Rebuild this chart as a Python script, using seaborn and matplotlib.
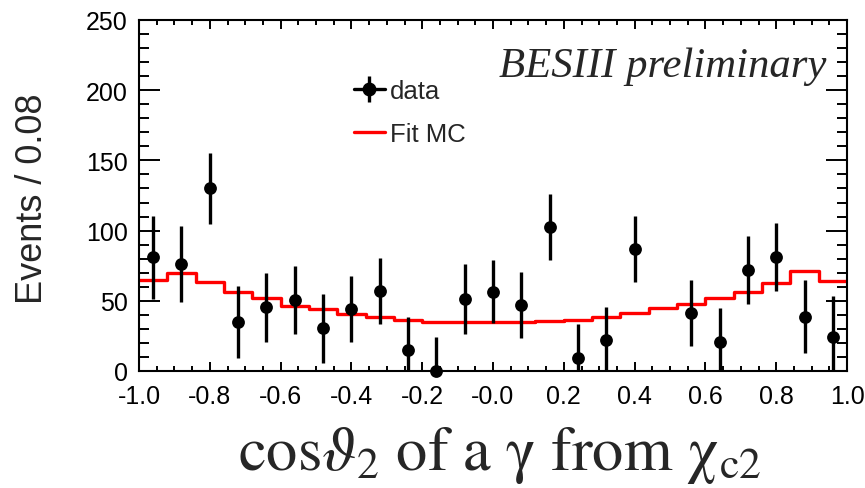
import numpy as np
import pandas as pd
import matplotlib
matplotlib.use("Agg")
import matplotlib.pyplot as plt
import seaborn as sns
from matplotlib.ticker import MultipleLocator, FixedLocator
from matplotlib.lines import Line2D
from matplotlib.legend_handler import HandlerTuple

# ---------------- data ----------------
bin_width = 0.08
bin_centers = [-0.96, -0.88, -0.80, -0.72, -0.64, -0.56, -0.48, -0.40, -0.32,
               -0.24, -0.16, -0.08, 0.00, 0.08, 0.16, 0.24, 0.32, 0.40, 0.48,
               0.56, 0.64, 0.72, 0.80, 0.88, 0.96]
data_counts = [81.0, 76.2, 130.1, 35.1, 45.4, 50.6, 30.4, 44.2, 56.8,
               15.0, 0.2, 51.3, 56.5, 47.0, 102.8, 9.0, 22.1, 86.9, np.nan,
               41.3, 20.4, 72.2, 81.0, 38.7, 24.0]
data_errors = [29.6, 27.0, 25.5, 25.5, 24.7, 24.0, 24.6, 23.4, 23.4,
               23.2, 24.0, 24.6, 22.3, 23.5, 23.5, 24.5, 23.3, 23.5, np.nan,
               23.4, 24.2, 24.3, 24.3, 26.1, 29.6]
fit_mc = [64.8, 69.8, 63.6, 56.5, 52.0, 46.5, 44.2, 40.6, 38.7,
          36.4, 34.8, 35.2, 34.8, 34.8, 35.7, 36.6, 38.2, 41.0, 44.8,
          47.7, 51.7, 56.0, 62.8, 70.9, 63.8]
x_tick_values = [-1.0, -0.8, -0.6, -0.4, -0.2, 0.0, 0.2, 0.4, 0.6, 0.8, 1.0]
x_tick_labels = ["-1.0", "-0.8", "-0.6", "-0.4", "-0.2", "-0.0",
                 "0.2", "0.4", "0.6", "0.8", "1.0"]
y_tick_values = [0, 50, 100, 150, 200, 250]
y_tick_labels = ["0", "50", "100", "150", "200", "250"]

df_data = pd.DataFrame({"x": bin_centers, "y": data_counts, "err": data_errors})
df_mc = pd.DataFrame({"x": bin_centers, "w": fit_mc})
bin_edges = [c - bin_width / 2 for c in bin_centers] + [bin_centers[-1] + bin_width / 2]

# ---------------- style ----------------
sns.set_theme(style="ticks")
plt.rcParams["font.family"] = ["Liberation Sans", "DejaVu Sans"]
plt.rcParams["mathtext.fontset"] = "stix"

W, H = 865, 489
fig = plt.figure(figsize=(W / 100, H / 100), dpi=100)
fig.patch.set_facecolor("white")
L, R, T, B = 139, 847, 21, 372
ax = fig.add_axes([L / W, (H - B) / H, (R - L) / W, (B - T) / H])
ax.set_facecolor("white")

# Fit MC histogram (step)
sns.histplot(data=df_mc, x="x", weights="w", bins=bin_edges, element="step",
             fill=False, color="#ff0000", linewidth=2.4, ax=ax, zorder=2)

# data error bars
ax.errorbar(df_data["x"], df_data["y"], yerr=df_data["err"], fmt="none",
            ecolor="black", elinewidth=2.4, capsize=0, zorder=3)
# data markers
sns.scatterplot(data=df_data, x="x", y="y", color="black", s=85,
                edgecolor="black", linewidth=0, ax=ax, zorder=4, clip_on=False)

ax.set_xlim(-1.0, 1.0)
ax.set_ylim(0, 250)
ax.set_xlabel("")
ax.set_ylabel("")

ax.xaxis.set_major_locator(FixedLocator(x_tick_values))
ax.set_xticklabels(x_tick_labels)
ax.xaxis.set_minor_locator(MultipleLocator(0.05))
ax.yaxis.set_major_locator(FixedLocator(y_tick_values))
ax.set_yticklabels(y_tick_labels)
ax.yaxis.set_minor_locator(MultipleLocator(10))

for s in ax.spines.values():
    s.set_visible(True)
    s.set_linewidth(1.5)
    s.set_color("black")

ax.tick_params(axis="both", which="both", direction="in", top=True, right=True,
               colors="black", width=1.4, labelsize=18)
ax.tick_params(axis="x", which="major", length=6.5, pad=9.5)
ax.tick_params(axis="x", which="minor", length=3.6)
ax.tick_params(axis="y", which="major", length=15, pad=8)
ax.tick_params(axis="y", which="minor", length=7.5)

# legend
h_data = (Line2D([], [], color="black", lw=2.4),
          Line2D([], [], color="black", marker="|", markersize=19,
                 markeredgewidth=2.4, linestyle="none"),
          Line2D([], [], color="black", marker="o", markersize=9,
                 linestyle="none"))
h_mc = Line2D([], [], color="#ff0000", lw=2.4)
ax.legend([h_data, h_mc], ["data", "Fit MC"],
          handler_map={tuple: HandlerTuple(ndivide=1)},
          loc="upper left", bbox_to_anchor=((354 - L) / (R - L), (B - 80) / (B - T)),
          frameon=False, fontsize=18.5, borderpad=0, borderaxespad=0,
          handlelength=1.2, handletextpad=0.2, labelspacing=0.72)

# BESIII preliminary
ax.text((826 - L) / (R - L), (B - 77) / (B - T), "BESIII preliminary",
        transform=ax.transAxes, ha="right", va="baseline",
        family=["Liberation Serif"], style="italic", fontsize=30.8)

# axis labels
fig.text(33 / W, 1 - 199 / H, "Events / 0.08", rotation=90, ha="center",
         va="center", fontsize=26)
fig.text(500 / W, 1 - 470 / H,
         r"$\mathrm{cos}\vartheta_{2}\ \mathrm{of\ a}\ \mathrm{\gamma}\ \mathrm{from}\ \mathrm{\chi}_{\mathrm{c2}}$",
         ha="center", va="baseline", fontsize=45)

fig.savefig("out.png", dpi=100, facecolor="white")
